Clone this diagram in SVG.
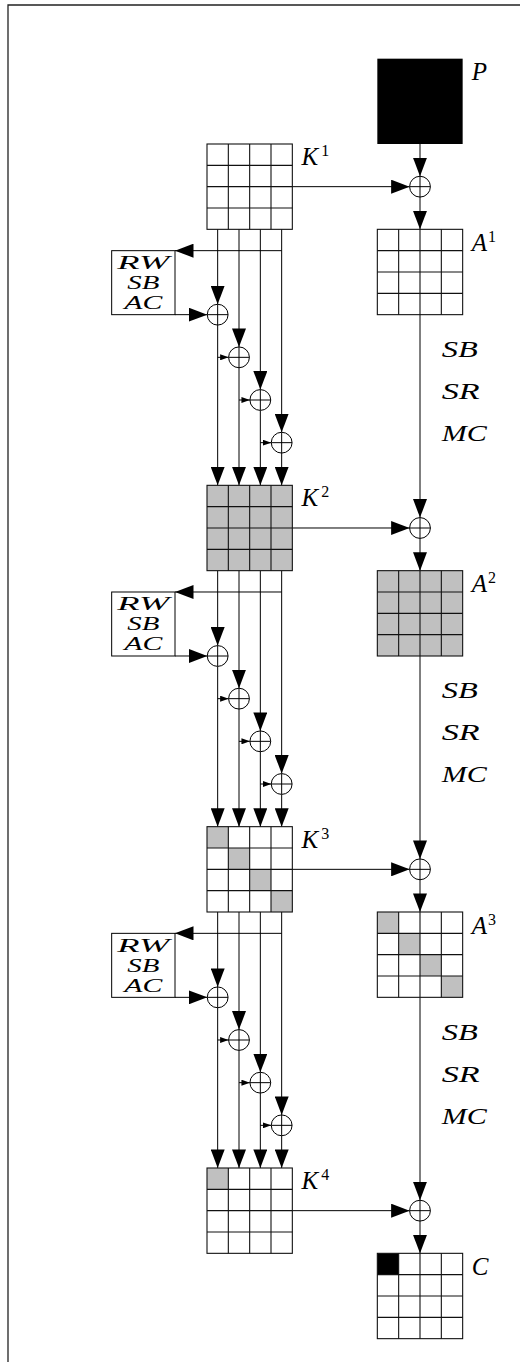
<svg xmlns="http://www.w3.org/2000/svg" xmlns:xlink="http://www.w3.org/1999/xlink" width="520" height="1362" viewBox="0 0 520 1362">
<style>
.ln{fill:none;stroke:#000;stroke-width:1}
.gl{fill:none;stroke:#111;stroke-width:1.1}
.g{fill:#c0c0c0}
.b{fill:#000}
.lbl{font-family:"Liberation Serif","Times New Roman",serif;font-style:italic;font-size:25px;fill:#000}
.sup{font-style:normal;font-size:16px}
.cal{font-family:"Liberation Serif","Times New Roman",serif;font-style:italic;font-size:18px;fill:#000}
.op{font-family:"Liberation Serif","Times New Roman",serif;font-style:italic;font-size:24px;fill:#000}
.frame{fill:none;stroke:#222;stroke-width:1.3}
</style>
<defs>
<marker id="ah" markerUnits="userSpaceOnUse" markerWidth="19" markerHeight="14" refX="18.5" refY="7" orient="auto"><path d="M0 0L18.5 7L0 14Z" fill="#000"/></marker>
<marker id="sah" markerUnits="userSpaceOnUse" markerWidth="9" markerHeight="6" refX="8.5" refY="3" orient="auto"><path d="M0 0L8.5 3L0 6Z" fill="#000"/></marker>
<g id="grid" class="gl"><rect x="0" y="0" width="85.33" height="85.33"/><path d="M21.33 0V85.33M42.67 0V85.33M64 0V85.33M0 21.33H85.33M0 42.67H85.33M0 64H85.33"/></g>
<g id="xor"><circle r="10.4" fill="#fff" stroke="#000" stroke-width="1"/><path d="M-10.4 0H10.4M0 -10.4V10.4" stroke="#000" stroke-width="1"/></g>
</defs>
<rect width="520" height="1362" fill="#fff"/>
<path class="frame" d="M8 1362V5H520"/>

<g id="connectors" class="ln">
  <path d="M420 144V176.27" marker-end="url(#ah)"/>
  <g transform="translate(0,144)">
    <path d="M292.33 42.67H409.6" marker-end="url(#ah)"/>
    <path d="M420 53.07V85.33" marker-end="url(#ah)"/>
    <path d="M420 170.67V373.6" marker-end="url(#ah)"/>
    <path d="M281.67 106.67H175" marker-end="url(#ah)"/>
    <path d="M175 170.67H207.27" marker-end="url(#ah)"/>
    <path d="M217.67 85.33V160.27" marker-end="url(#ah)"/><path d="M217.67 181.07V341.33" marker-end="url(#ah)"/>
    <path d="M239 85.33V202.93" marker-end="url(#ah)"/><path d="M239 223.73V341.33" marker-end="url(#ah)"/>
    <path d="M260.33 85.33V245.6" marker-end="url(#ah)"/><path d="M260.33 266.4V341.33" marker-end="url(#ah)"/>
    <path d="M281.67 85.33V288.27" marker-end="url(#ah)"/><path d="M281.67 309.07V341.33" marker-end="url(#ah)"/>
    <path d="M217.67 213.33H228.6" marker-end="url(#sah)"/>
    <path d="M239 256H249.93" marker-end="url(#sah)"/>
    <path d="M260.33 298.67H271.27" marker-end="url(#sah)"/>
  </g>
  <g transform="translate(0,485.33)">
    <path d="M292.33 42.67H409.6" marker-end="url(#ah)"/>
    <path d="M420 53.07V85.33" marker-end="url(#ah)"/>
    <path d="M420 170.67V373.6" marker-end="url(#ah)"/>
    <path d="M281.67 106.67H175" marker-end="url(#ah)"/>
    <path d="M175 170.67H207.27" marker-end="url(#ah)"/>
    <path d="M217.67 85.33V160.27" marker-end="url(#ah)"/><path d="M217.67 181.07V341.33" marker-end="url(#ah)"/>
    <path d="M239 85.33V202.93" marker-end="url(#ah)"/><path d="M239 223.73V341.33" marker-end="url(#ah)"/>
    <path d="M260.33 85.33V245.6" marker-end="url(#ah)"/><path d="M260.33 266.4V341.33" marker-end="url(#ah)"/>
    <path d="M281.67 85.33V288.27" marker-end="url(#ah)"/><path d="M281.67 309.07V341.33" marker-end="url(#ah)"/>
    <path d="M217.67 213.33H228.6" marker-end="url(#sah)"/>
    <path d="M239 256H249.93" marker-end="url(#sah)"/>
    <path d="M260.33 298.67H271.27" marker-end="url(#sah)"/>
  </g>
  <g transform="translate(0,826.67)">
    <path d="M292.33 42.67H409.6" marker-end="url(#ah)"/>
    <path d="M420 53.07V85.33" marker-end="url(#ah)"/>
    <path d="M420 170.67V373.6" marker-end="url(#ah)"/>
    <path d="M281.67 106.67H175" marker-end="url(#ah)"/>
    <path d="M175 170.67H207.27" marker-end="url(#ah)"/>
    <path d="M217.67 85.33V160.27" marker-end="url(#ah)"/><path d="M217.67 181.07V341.33" marker-end="url(#ah)"/>
    <path d="M239 85.33V202.93" marker-end="url(#ah)"/><path d="M239 223.73V341.33" marker-end="url(#ah)"/>
    <path d="M260.33 85.33V245.6" marker-end="url(#ah)"/><path d="M260.33 266.4V341.33" marker-end="url(#ah)"/>
    <path d="M281.67 85.33V288.27" marker-end="url(#ah)"/><path d="M281.67 309.07V341.33" marker-end="url(#ah)"/>
    <path d="M217.67 213.33H228.6" marker-end="url(#sah)"/>
    <path d="M239 256H249.93" marker-end="url(#sah)"/>
    <path d="M260.33 298.67H271.27" marker-end="url(#sah)"/>
  </g>
  <g transform="translate(0,1168)">
    <path d="M292.33 42.67H409.6" marker-end="url(#ah)"/>
    <path d="M420 53.07V85.33" marker-end="url(#ah)"/>
  </g>
</g>

<g id="P" transform="translate(377.33,58.67)"><rect class="b" width="85.33" height="85.33"/><text class="lbl" x="94.5" y="21.5">P</text></g>

<g id="K1" transform="translate(207,144)"><use xlink:href="#grid"/><text class="lbl" x="94.5" y="21">K<tspan class="sup" dx="3" dy="-9">1</tspan></text></g>
<g id="K2" transform="translate(207,485.33)"><path class="g" d="M0 0H85.33V85.33H0Z"/><use xlink:href="#grid"/><text class="lbl" x="94.5" y="21">K<tspan class="sup" dx="3" dy="-9">2</tspan></text></g>
<g id="K3" transform="translate(207,826.67)"><path class="g" d="M0 0h21.33v21.33h-21.33zM21.33 21.33h21.33v21.33h-21.33zM42.67 42.67h21.33v21.33h-21.33zM64 64h21.33v21.33h-21.33z"/><use xlink:href="#grid"/><text class="lbl" x="94.5" y="21">K<tspan class="sup" dx="3" dy="-9">3</tspan></text></g>
<g id="K4" transform="translate(207,1168)"><path class="g" d="M0 0h21.33v21.33h-21.33z"/><use xlink:href="#grid"/><text class="lbl" x="94.5" y="21">K<tspan class="sup" dx="3" dy="-9">4</tspan></text></g>

<g id="A1" transform="translate(377.33,229.33)"><use xlink:href="#grid"/><text class="lbl" x="94.5" y="21.5">A<tspan class="sup" dx="1" dy="-9">1</tspan></text></g>
<g id="A2" transform="translate(377.33,570.67)"><path class="g" d="M0 0H85.33V85.33H0Z"/><use xlink:href="#grid"/><text class="lbl" x="94.5" y="21.5">A<tspan class="sup" dx="1" dy="-9">2</tspan></text></g>
<g id="A3" transform="translate(377.33,912)"><path class="g" d="M0 0h21.33v21.33h-21.33zM21.33 21.33h21.33v21.33h-21.33zM42.67 42.67h21.33v21.33h-21.33zM64 64h21.33v21.33h-21.33z"/><use xlink:href="#grid"/><text class="lbl" x="94.5" y="21.5">A<tspan class="sup" dx="1" dy="-9">3</tspan></text></g>
<g id="C" transform="translate(377.33,1253.33)"><path class="b" d="M0 0h21.33v21.33h-21.33z"/><use xlink:href="#grid"/><text class="lbl" x="94.5" y="21.5">C</text></g>

<g id="xorP1"><use xlink:href="#xor" x="420" y="186.67"/></g>
<g id="xorP2"><use xlink:href="#xor" x="420" y="528"/></g>
<g id="xorP3"><use xlink:href="#xor" x="420" y="869.33"/></g>
<g id="xorP4"><use xlink:href="#xor" x="420" y="1210.67"/></g>

<g id="ks1" transform="translate(0,144)">
  <g id="box1"><rect class="ln" x="111.67" y="106.67" width="63.33" height="64"/>
    <text class="cal" x="143.3" y="125" text-anchor="middle" textLength="52" lengthAdjust="spacingAndGlyphs">RW</text>
    <text class="cal" x="143.3" y="145" text-anchor="middle" textLength="32" lengthAdjust="spacingAndGlyphs">SB</text>
    <text class="cal" x="143.3" y="165" text-anchor="middle" textLength="38" lengthAdjust="spacingAndGlyphs">AC</text></g>
  <g id="kx1a"><use xlink:href="#xor" x="217.67" y="170.67"/></g>
  <g id="kx1b"><use xlink:href="#xor" x="239" y="213.33"/></g>
  <g id="kx1c"><use xlink:href="#xor" x="260.33" y="256"/></g>
  <g id="kx1d"><use xlink:href="#xor" x="281.67" y="298.67"/></g>
  <g id="ops1">
    <text class="op" x="441.7" y="213" textLength="36" lengthAdjust="spacingAndGlyphs">SB</text>
    <text class="op" x="441.7" y="255" textLength="38" lengthAdjust="spacingAndGlyphs">SR</text>
    <text class="op" x="441.7" y="297" textLength="45" lengthAdjust="spacingAndGlyphs">MC</text></g>
</g>
<g id="ks2" transform="translate(0,485.33)">
  <g id="box2"><rect class="ln" x="111.67" y="106.67" width="63.33" height="64"/>
    <text class="cal" x="143.3" y="125" text-anchor="middle" textLength="52" lengthAdjust="spacingAndGlyphs">RW</text>
    <text class="cal" x="143.3" y="145" text-anchor="middle" textLength="32" lengthAdjust="spacingAndGlyphs">SB</text>
    <text class="cal" x="143.3" y="165" text-anchor="middle" textLength="38" lengthAdjust="spacingAndGlyphs">AC</text></g>
  <g id="kx2a"><use xlink:href="#xor" x="217.67" y="170.67"/></g>
  <g id="kx2b"><use xlink:href="#xor" x="239" y="213.33"/></g>
  <g id="kx2c"><use xlink:href="#xor" x="260.33" y="256"/></g>
  <g id="kx2d"><use xlink:href="#xor" x="281.67" y="298.67"/></g>
  <g id="ops2">
    <text class="op" x="441.7" y="213" textLength="36" lengthAdjust="spacingAndGlyphs">SB</text>
    <text class="op" x="441.7" y="255" textLength="38" lengthAdjust="spacingAndGlyphs">SR</text>
    <text class="op" x="441.7" y="297" textLength="45" lengthAdjust="spacingAndGlyphs">MC</text></g>
</g>
<g id="ks3" transform="translate(0,826.67)">
  <g id="box3"><rect class="ln" x="111.67" y="106.67" width="63.33" height="64"/>
    <text class="cal" x="143.3" y="125" text-anchor="middle" textLength="52" lengthAdjust="spacingAndGlyphs">RW</text>
    <text class="cal" x="143.3" y="145" text-anchor="middle" textLength="32" lengthAdjust="spacingAndGlyphs">SB</text>
    <text class="cal" x="143.3" y="165" text-anchor="middle" textLength="38" lengthAdjust="spacingAndGlyphs">AC</text></g>
  <g id="kx3a"><use xlink:href="#xor" x="217.67" y="170.67"/></g>
  <g id="kx3b"><use xlink:href="#xor" x="239" y="213.33"/></g>
  <g id="kx3c"><use xlink:href="#xor" x="260.33" y="256"/></g>
  <g id="kx3d"><use xlink:href="#xor" x="281.67" y="298.67"/></g>
  <g id="ops3">
    <text class="op" x="441.7" y="213" textLength="36" lengthAdjust="spacingAndGlyphs">SB</text>
    <text class="op" x="441.7" y="255" textLength="38" lengthAdjust="spacingAndGlyphs">SR</text>
    <text class="op" x="441.7" y="297" textLength="45" lengthAdjust="spacingAndGlyphs">MC</text></g>
</g>
</svg>
